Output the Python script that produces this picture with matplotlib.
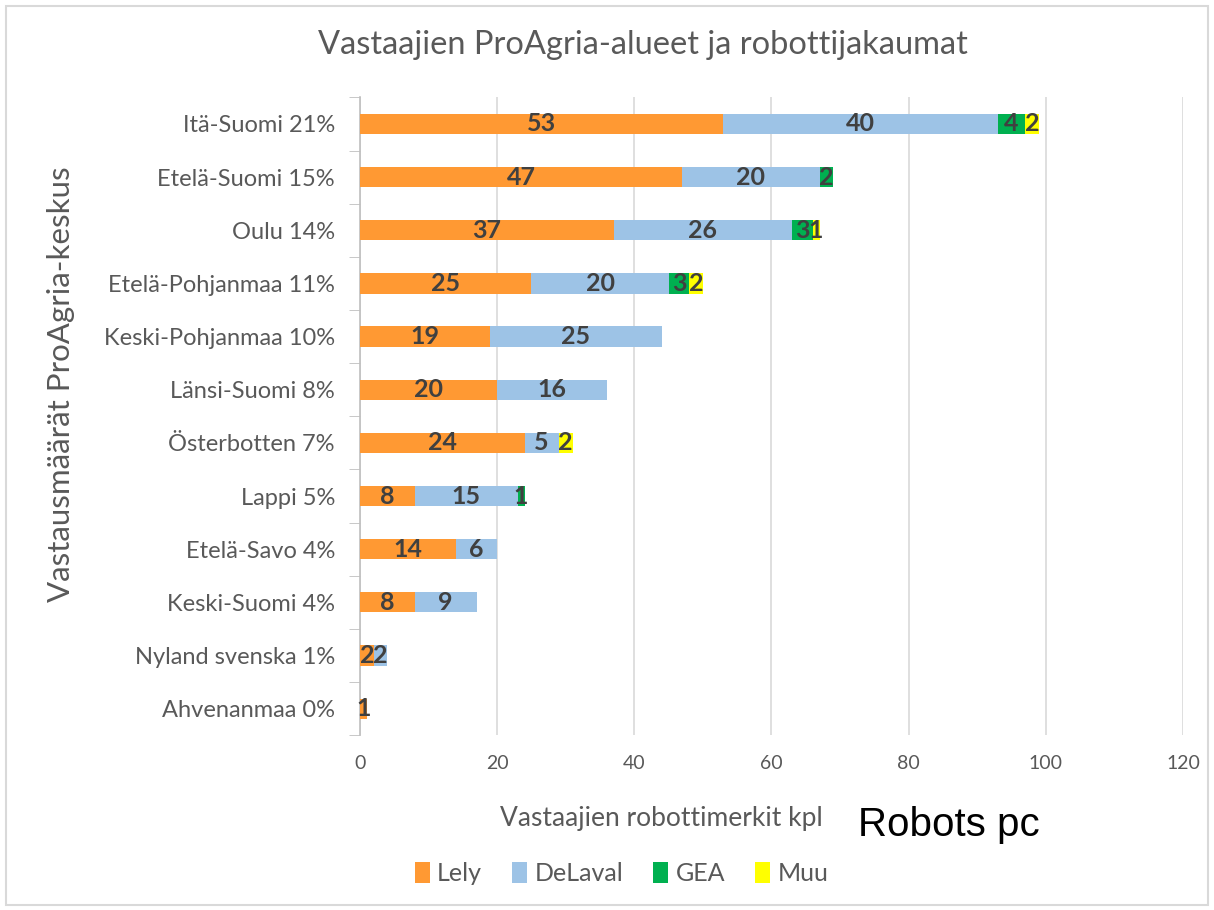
import matplotlib.pyplot as plt
import numpy as np
from matplotlib.patches import Rectangle

# data
regions = ['Itä-Suomi 21%', 'Etelä-Suomi 15%', 'Oulu 14%', 'Etelä-Pohjanmaa 11%',
           'Keski-Pohjanmaa 10%', 'Länsi-Suomi 8%', 'Österbotten 7%', 'Lappi 5%',
           'Etelä-Savo 4%', 'Keski-Suomi 4%', 'Nyland svenska 1%', 'Ahvenanmaa 0%']
lely = [53, 47, 37, 25, 19, 20, 24, 8, 14, 8, 2, 1]
delaval = [40, 20, 26, 20, 25, 16, 5, 15, 6, 9, 2, 0]
gea = [4, 2, 3, 3, 0, 0, 0, 1, 0, 0, 0, 0]
muu = [2, 0, 1, 2, 0, 0, 2, 0, 0, 0, 0, 0]
brands = ['Lely', 'DeLaval', 'GEA', 'Muu']
colors = ['#FF9933', '#9DC3E6', '#00B050', '#FFFF00']
xticks = [0, 20, 40, 60, 80, 100, 120]

plt.rcParams['font.family'] = ['Lato', 'DejaVu Sans']
grey = '#595959'

fig = plt.figure(figsize=(12.14, 9.10), dpi=100)
ax = fig.add_axes([0.2965, 0.192, 0.678, 0.701])

y = np.arange(len(regions))
left = np.zeros(len(regions))
for name, vals, c in zip(brands, [lely, delaval, gea, muu], colors):
    vals = np.array(vals, dtype=float)
    ax.barh(y, vals, left=left, height=0.38, color=c, label=name, zorder=3)
    for yi, l, v in zip(y, left, vals):
        if v > 0:
            ax.text(l + v / 2, yi, '%d' % v, ha='center', va='center',
                    fontsize=18, fontweight='bold', color='#404040', zorder=4)
    left += vals

ax.set_ylim(len(regions) - 0.5, -0.5)
ax.set_xlim(0, 120)
ax.set_xticks(xticks)
ax.set_yticks(y)
ax.set_yticklabels(regions, fontsize=17, color=grey)
ax.set_yticks(np.arange(len(regions) + 1) - 0.5, minor=True)
ax.tick_params(axis='y', which='major', length=0, pad=18)
ax.tick_params(axis='y', which='minor', length=8, color='#bfbfbf')
ax.tick_params(axis='x', length=0, labelsize=14, labelcolor=grey, pad=14)
ax.grid(axis='x', color='#d9d9d9', linewidth=1.2, zorder=0)
for s in ['top', 'right', 'bottom']:
    ax.spines[s].set_visible(False)
ax.spines['left'].set_color('#bfbfbf')
ax.spines['left'].set_linewidth(1.2)

fig.text(0.53, 0.95, 'Vastaajien ProAgria-alueet ja robottijakaumat',
         ha='center', va='center', fontsize=23.5, color=grey)
fig.text(0.05, 0.578, 'Vastausmäärät ProAgria-keskus', rotation=90,
         ha='center', va='center', fontsize=22.5, color=grey)
fig.text(0.545, 0.101, 'Vastaajien robottimerkit kpl', ha='center', va='center',
         fontsize=19, color=grey)
fig.text(0.707, 0.093, 'Robots pc', ha='left', va='center', fontsize=29,
         color='black', family='Liberation Sans')

leg = fig.legend(loc='center', bbox_to_anchor=(0.512, 0.04), ncol=4, frameon=False,
                 fontsize=18, handlelength=0.6, handleheight=0.9, handletextpad=0.3,
                 columnspacing=1.2)
for t in leg.get_texts():
    t.set_color(grey)

fig.patches.append(Rectangle((0.005, 0.005), 0.99, 0.988, transform=fig.transFigure,
                             fill=False, edgecolor='#d9d9d9', linewidth=1.5))

fig.savefig('out.png')
